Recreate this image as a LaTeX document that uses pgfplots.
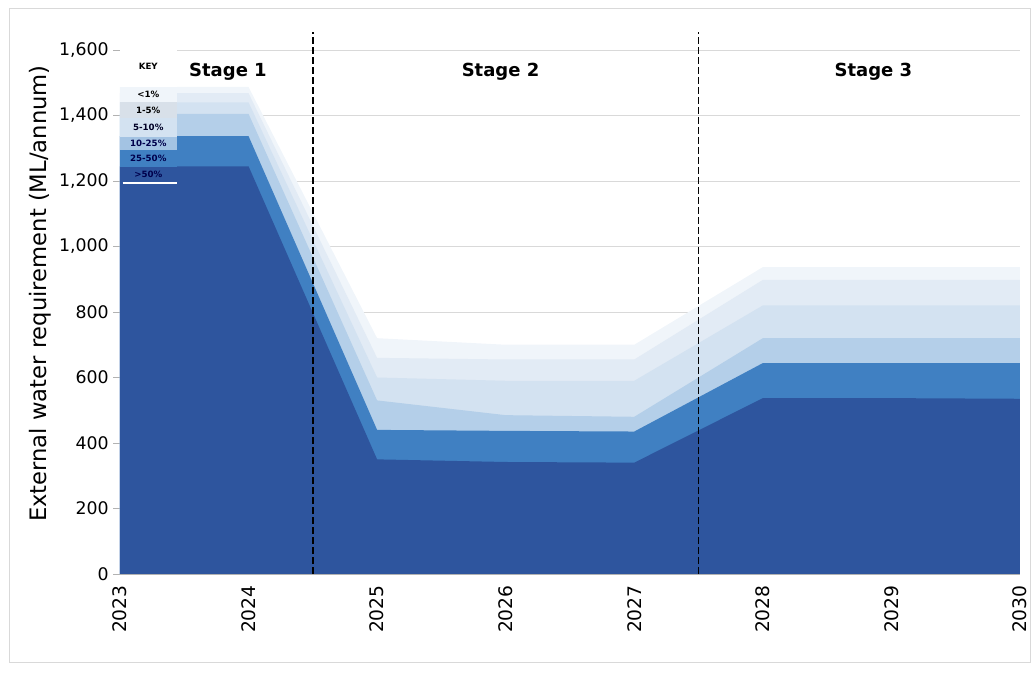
\documentclass[border=0pt]{standalone}
\usepackage{fontspec}
\setmainfont{DejaVu Sans}
\usepackage{pgfplots}
\pgfplotsset{compat=1.18}

\definecolor{bandA}{HTML}{F0F5FA}% <1%
\definecolor{bandB}{HTML}{E2EBF5}% 1-5%
\definecolor{bandC}{HTML}{D3E2F1}% 5-10%
\definecolor{bandD}{HTML}{B4CFE9}% 10-25%
\definecolor{bandE}{HTML}{4080C2}% 25-50%
\definecolor{bandF}{HTML}{2E559E}% >50%

\begin{document}
\begin{tikzpicture}
\begin{axis}[
    scale only axis,
    width=675pt, height=393pt,
    xmin=2023, xmax=2030, ymin=0, ymax=1600,
    axis x line*=bottom, axis y line*=left,
    axis line style={draw=gray!60},
    xtick={2023,2024,2025,2026,2027,2028,2029,2030},
    xticklabels={2023,2024,2025,2026,2027,2028,2029,2030},
    x tick label style={rotate=90, anchor=east, font=\fontsize{14}{14}\selectfont},
    major x tick style={draw=none},
    ytick={0,200,...,1600},
    y tick label style={font=\fontsize{13}{13}\selectfont, /pgf/number format/assume math mode=true},
    major y tick style={draw=gray!60},
    tick align=outside, major tick length=5pt,
    ymajorgrids, grid style={draw=gray!30},
    ylabel={External water requirement (ML/annum)},
    ylabel style={at={(rel axis cs:-0.089,0.535)}, anchor=center, font=\fontsize{17}{17}\selectfont},
    clip=false,
]
% fan bands, widest first
\addplot[fill=bandA, draw=none] coordinates {
    (2023,1487) (2024,1487) (2025,720) (2026,700) (2027,700) (2028,937) (2029,937) (2030,937)
} \closedcycle;
\addplot[fill=bandB, draw=none] coordinates {
    (2023,1468) (2024,1468) (2025,660) (2026,655) (2027,655) (2028,898) (2029,898) (2030,898)
} \closedcycle;
\addplot[fill=bandC, draw=none] coordinates {
    (2023,1440) (2024,1440) (2025,600) (2026,590) (2027,590) (2028,820) (2029,820) (2030,820)
} \closedcycle;
\addplot[fill=bandD, draw=none] coordinates {
    (2023,1405) (2024,1405) (2025,530) (2026,485) (2027,480) (2028,720) (2029,720) (2030,720)
} \closedcycle;
\addplot[fill=bandE, draw=none] coordinates {
    (2023,1337) (2024,1337) (2025,440) (2026,437) (2027,435) (2028,644) (2029,644) (2030,644)
} \closedcycle;
\addplot[fill=bandF, draw=none] coordinates {
    (2023,1245) (2024,1245) (2025,350) (2026,342) (2027,340) (2028,537) (2029,537) (2030,535)
} \closedcycle;

% key
\fill[white] (axis cs:2023,1487) rectangle (axis cs:2023.443,1600);
\fill[bandA] (axis cs:2023,1441) rectangle (axis cs:2023.443,1487);
\fill[bandB!90!gray] (axis cs:2023,1392) rectangle (axis cs:2023.443,1441);
\fill[bandC] (axis cs:2023,1334) rectangle (axis cs:2023.443,1392);
\fill[bandD!85!bandE] (axis cs:2023,1295) rectangle (axis cs:2023.443,1334);
\fill[bandE] (axis cs:2023,1243) rectangle (axis cs:2023.443,1295);
\fill[bandF] (axis cs:2023,1194) rectangle (axis cs:2023.443,1243);
\draw[white, line width=1pt] (axis cs:2023.02,1194) -- (axis cs:2023.443,1194);
\begin{scope}[every node/.style={font=\bfseries\fontsize{6.5}{6.5}\selectfont}]
\node at (axis cs:2023.22,1551) {KEY};
\node at (axis cs:2023.22,1465) {<1\%};
\node at (axis cs:2023.22,1417) {1-5\%};
\node[text=black!85!blue] at (axis cs:2023.22,1364) {5-10\%};
\node[text=black!70!blue] at (axis cs:2023.22,1315) {10-25\%};
\node[text=black!70!blue] at (axis cs:2023.22,1269) {25-50\%};
\node[text=black!70!blue] at (axis cs:2023.22,1219) {>50\%};
\end{scope}

% stage markers
\draw[black, line width=1.2pt, dash pattern=on 5pt off 2.5pt] (axis cs:2024.5,0) -- (axis cs:2024.5,1655);
\draw[black, line width=1.2pt, dash pattern=on 5pt off 2.5pt] (axis cs:2027.5,0) -- (axis cs:2027.5,1655);
\begin{scope}[every node/.style={font=\bfseries\fontsize{13.5}{13.5}\selectfont}]
\node at (axis cs:2023.84,1533) {Stage 1};
\node at (axis cs:2025.96,1533) {Stage 2};
\node at (axis cs:2028.86,1533) {Stage 3};
\end{scope}

% chart frame and page size
\draw[gray!30] (rel axis cs:-0.1233,-0.1679) rectangle (rel axis cs:1.0111,1.0802);
\path (rel axis cs:-0.1333,-0.2023) rectangle (rel axis cs:1.0167,1.0954);
\end{axis}
\end{tikzpicture}
\end{document}
